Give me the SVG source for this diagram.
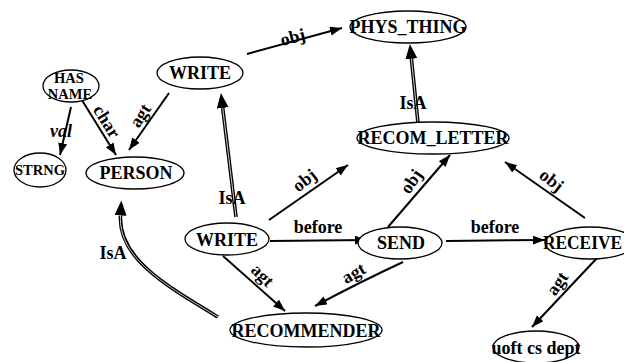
<svg xmlns="http://www.w3.org/2000/svg" width="624" height="362" viewBox="0 0 624 362">
<defs>
<style>
.n{fill:#fff;stroke:#000;stroke-width:1.3}
.t{font-family:"Liberation Serif","Times New Roman",serif;font-weight:bold;font-size:18px;fill:#000;text-anchor:middle}
.s{font-size:14.5px}
.e{fill:none;stroke:#000;stroke-width:2}
.ib{fill:none;stroke:#000;stroke-width:3.6}
.iw{fill:none;stroke:#fff;stroke-width:0.8}
</style>
<marker id="a" markerUnits="userSpaceOnUse" markerWidth="13" markerHeight="10" refX="12" refY="4.5" orient="auto">
<path d="M0,0 L12,4.5 L0,9 z" fill="#000"/>
</marker>
<marker id="b" markerUnits="userSpaceOnUse" markerWidth="16" markerHeight="13" refX="0" refY="6" orient="auto">
<path d="M0,0 L15,6 L0,12 z" fill="#000"/>
</marker>
</defs>
<rect width="624" height="362" fill="#fff"/>
<g id="connectors">
<line class="e" x1="247" y1="54" x2="342" y2="28" marker-end="url(#a)"/>
<line class="e" x1="169" y1="93" x2="129" y2="150" marker-end="url(#a)"/>
<line class="e" x1="80" y1="97" x2="116" y2="155" marker-end="url(#a)"/>
<line class="e" x1="71" y1="107" x2="60" y2="155" marker-end="url(#a)"/>
<line class="e" x1="269" y1="220" x2="348" y2="165" marker-end="url(#a)"/>
<line class="e" x1="388" y1="227" x2="450" y2="155" marker-end="url(#a)"/>
<line class="e" x1="585" y1="218" x2="505" y2="162" marker-end="url(#a)"/>
<line class="e" x1="270" y1="241" x2="367" y2="240" marker-end="url(#a)"/>
<line class="e" x1="446" y1="241" x2="545" y2="240" marker-end="url(#a)"/>
<line class="e" x1="223" y1="256" x2="285" y2="311" marker-end="url(#a)"/>
<path class="e" d="M403,262 Q360,282 315,306" marker-end="url(#a)"/>
<line class="e" x1="598" y1="257" x2="532" y2="327" marker-end="url(#a)"/>
<path class="ib" d="M236,217 L222.7,107.9" marker-end="url(#b)"/>
<path class="iw" d="M236,217 L222.7,107.9"/>
<path class="ib" d="M418,123 L411.4,58.9" marker-end="url(#b)"/>
<path class="iw" d="M418,123 L411.4,58.9"/>
<path class="ib" d="M218,317 C165,285 118,258 120.5,215.5" marker-end="url(#b)"/>
<path class="iw" d="M218,317 C165,285 118,258 120.5,215.5"/>
<g class="t">
<text transform="translate(293,38) rotate(-14)" y="5">obj</text>
<text transform="translate(141,116) rotate(-57)" y="5">agt</text>
<text transform="translate(106,122) rotate(58)" y="5">char</text>
<text x="61" y="137" font-style="italic">val</text>
<text x="232" y="204">IsA</text>
<text x="413" y="109">IsA</text>
<text x="113" y="259">IsA</text>
<text transform="translate(305,181) rotate(-38)" y="5">obj</text>
<text transform="translate(412,182) rotate(-55)" y="5">obj</text>
<text transform="translate(551,181) rotate(38)" y="5">obj</text>
<text x="318" y="233">before</text>
<text x="495" y="233">before</text>
<text transform="translate(262,276) rotate(45)" y="5">agt</text>
<text transform="translate(354,274) rotate(-30)" y="5">agt</text>
<text transform="translate(558,284) rotate(-55)" y="5">agt</text>
</g>
</g>
<g id="hasname"><ellipse class="n" cx="71" cy="86" rx="28" ry="16"/><text class="t s" x="69" y="83">HAS</text><text class="t s" x="70" y="99">NAME</text></g>
<g id="write1"><ellipse class="n" cx="200" cy="73" rx="43" ry="16"/><text class="t" x="200" y="79">WRITE</text></g>
<g id="strng"><ellipse class="n" cx="40" cy="170" rx="26" ry="17"/><text class="t s" x="40" y="175">STRNG</text></g>
<g id="person"><ellipse class="n" cx="135" cy="173" rx="49" ry="16"/><text class="t" x="136" y="179">PERSON</text></g>
<g id="phys_thing"><ellipse class="n" cx="408" cy="27" rx="58" ry="16"/><text class="t" x="408" y="33">PHYS_THING</text></g>
<g id="recom_letter"><ellipse class="n" cx="433" cy="138" rx="76" ry="16"/><text class="t" x="433" y="144">RECOM_LETTER</text></g>
<g id="write2"><ellipse class="n" cx="227" cy="239" rx="42" ry="16"/><text class="t" x="227" y="246">WRITE</text></g>
<g id="send"><ellipse class="n" cx="400" cy="243" rx="42" ry="16"/><text class="t" x="401" y="249">SEND</text></g>
<g id="receive"><ellipse class="n" cx="590" cy="243" rx="45" ry="16"/><text class="t" x="543" y="249" style="text-anchor:start" textLength="79" lengthAdjust="spacingAndGlyphs">RECEIVE</text></g>
<g id="recommender"><ellipse class="n" cx="306" cy="330" rx="76" ry="17"/><text class="t" x="306" y="337">RECOMMENDER</text></g>
<g id="uoft"><ellipse class="n" cx="536" cy="347" rx="43" ry="16"/><text class="t" x="536" y="354">uoft cs dept</text></g>
</svg>
